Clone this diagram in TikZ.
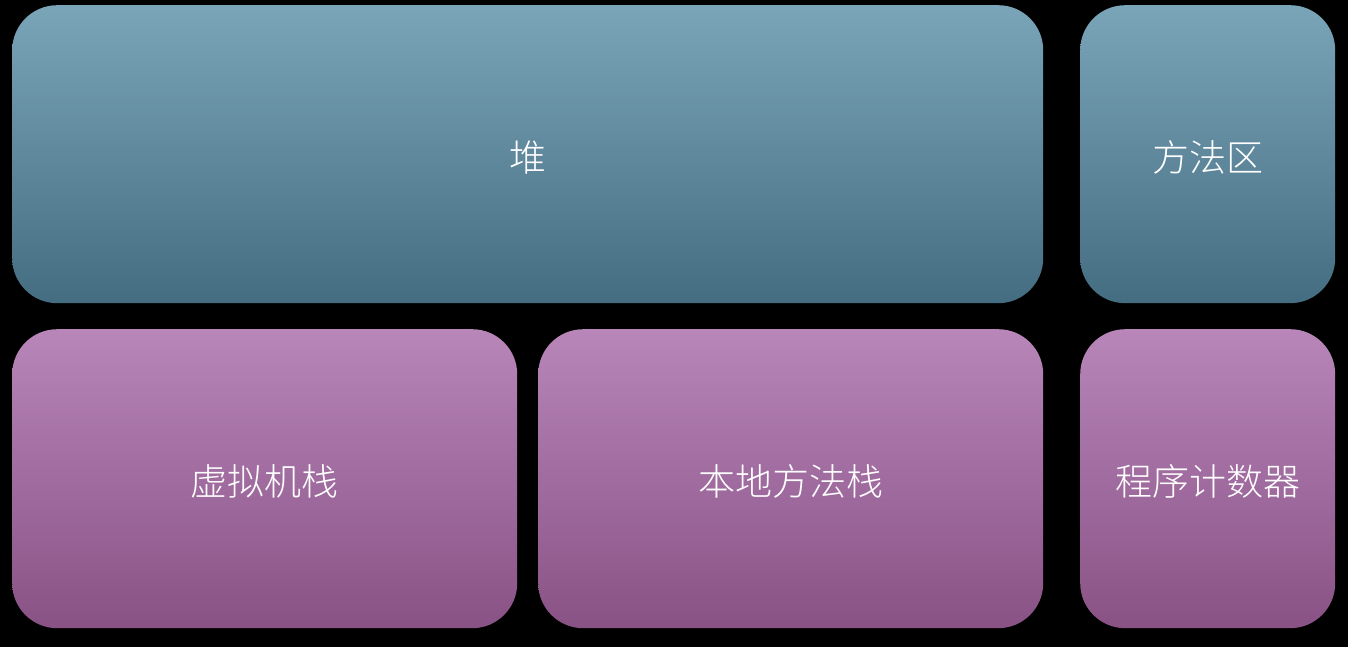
\documentclass[tikz,border=0pt]{standalone}
\usepackage{fontspec}
\newfontfamily\cjk{Noto Sans CJK SC Light}
\definecolor{tealtop}{HTML}{7AA4B7}
\definecolor{tealbot}{HTML}{456D82}
\definecolor{plumtop}{HTML}{B886B9}
\definecolor{plumbot}{HTML}{895285}
\newcommand{\lowered}[1]{\raisebox{-3pt}[\height][\depth]{#1}}
\begin{document}
\begin{tikzpicture}[x=1pt,y=-1pt,
  area/.style={rectangle,rounded corners=45pt,inner sep=0pt,font=\cjk\fontsize{37}{40}\selectfont,text=white,anchor=north west},
  heap/.style={area,top color=tealtop,bottom color=tealbot},
  stack/.style={area,top color=plumtop,bottom color=plumbot}]
\fill[black] (0,0) rectangle (1348,647);
\useasboundingbox (0,0) rectangle (1348,647);
\node[heap,minimum width=1031pt,minimum height=298pt] (heapbox) at (12,5) {\lowered{堆}};
\node[heap,minimum width=255pt,minimum height=298pt] (method) at (1080,5) {\lowered{方法区}};
\node[stack,minimum width=505pt,minimum height=299pt] (vmstack) at (12,329) {\lowered{虚拟机栈}};
\node[stack,minimum width=505pt,minimum height=299pt] (native) at (538,329) {\lowered{本地方法栈}};
\node[stack,minimum width=255pt,minimum height=299pt] (pc) at (1080,329) {\lowered{程序计数器}};
\end{tikzpicture}
\end{document}
